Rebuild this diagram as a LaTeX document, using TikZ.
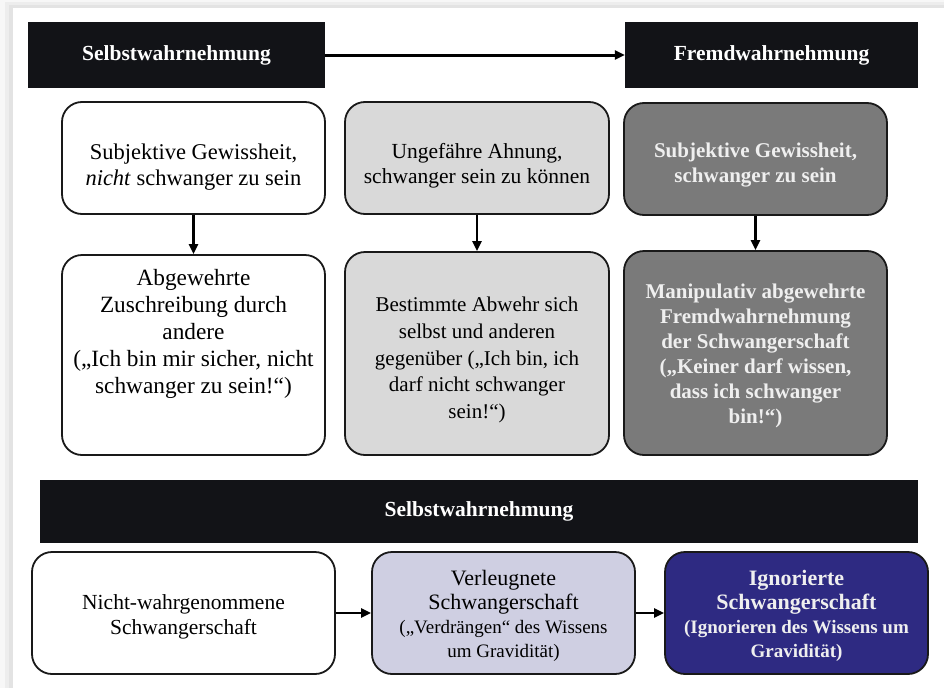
\documentclass[tikz,border=0pt]{standalone}
\usepackage{fontspec}
\setmainfont{Liberation Serif}
\usetikzlibrary{arrows.meta}
\definecolor{hdrblack}{HTML}{121317}
\definecolor{lgray}{HTML}{D9D9D9}
\definecolor{dgray}{HTML}{7A7A7A}
\definecolor{lav}{HTML}{CFCFE2}
\definecolor{dblue}{HTML}{2E2A82}
\definecolor{wtext}{HTML}{EFEFEF}
\newcommand{\subfnt}{\fontsize{19}{24}\selectfont}
\begin{document}
\begin{tikzpicture}[x=1pt,y=-1pt,
  hdr/.style={fill=hdrblack, text=white, inner sep=0pt, font=\fontsize{21.5}{24}\selectfont\bfseries},
  rbox/.style={draw=black!90, line width=1.8pt, rounded corners=20pt, inner sep=0pt},
  txt/.style={align=center, inner sep=0pt},
  boldtxt/.style={txt, font=\fontsize{21}{25}\selectfont\bfseries, text=wtext},
  conn/.style={draw=black, line width=2.4pt, -{Triangle[length=10pt,width=9pt]}},
]
\useasboundingbox (0,0) rectangle (944,688);
% card with shadow
\fill[black!3] (0,0) rectangle (944,688);
\fill[black!7] (5,2) rectangle (944,688);
\fill[black!11] (9,5) rectangle (944,688);
\fill[white] (13,8) rectangle (944,688);

% header boxes
\node[hdr, minimum width=297pt, minimum height=66pt] (sw) at (176.5,55) {Selbstwahrnehmung};
\node[hdr, minimum width=293pt, minimum height=66pt] (fw) at (771.5,55) {Fremdwahrnehmung};
\draw[conn, line width=3pt] (sw) -- (fw);

% row 1
\node[rbox, fill=white, minimum width=263pt, minimum height=112pt] (a1) at (193.5,158) {};
\node[txt, font=\fontsize{22.5}{26.5}\selectfont] (a1t) at (193.5,167)
  {Subjektive Gewissheit,\\\textit{nicht} schwanger zu sein};
\node[rbox, fill=lgray, minimum width=264pt, minimum height=112pt] (b1) at (477,158) {};
\node[txt, font=\fontsize{21.5}{25}\selectfont] (b1t) at (477,166)
  {Ungefähre Ahnung,\\schwanger sein zu können};
\node[rbox, fill=dgray, minimum width=263pt, minimum height=112pt] (c1) at (755.5,159) {};
\node[boldtxt] (c1t) at (755.5,165)
  {Subjektive Gewissheit,\\schwanger zu sein};

% row 2
\node[rbox, fill=white, minimum width=263pt, minimum height=200pt] (a2) at (193.5,355) {};
\node[txt, font=\fontsize{23.3}{27}\selectfont] (a2t) at (193.5,334)
  {Abgewehrte\\Zuschreibung durch\\andere\\(„Ich bin mir sicher, nicht\\schwanger zu sein!“)};
\node[rbox, fill=lgray, minimum width=264pt, minimum height=203pt] (b2) at (477,353.5) {};
\node[txt, font=\fontsize{21}{26.8}\selectfont] (b2t) at (477,360)
  {Bestimmte Abwehr sich\\selbst und anderen\\gegenüber („Ich bin, ich\\darf nicht schwanger\\sein!“)};
\node[rbox, fill=dgray, minimum width=263pt, minimum height=204pt] (c2) at (755.5,353) {};
\node[boldtxt] (c2t) at (755.5,356)
  {Manipulativ abgewehrte\\Fremdwahrnehmung\\der Schwangerschaft\\(„Keiner darf wissen,\\dass ich schwanger\\bin!“)};

\draw[conn] (a1) -- (a2);
\draw[conn] (b1) -- (b2);
\draw[conn] (c1) -- (c2);

% bottom bar
\node[hdr, minimum width=878pt, minimum height=63pt] (bar) at (479,511.5) {Selbstwahrnehmung};

% bottom row
\node[rbox, fill=white, minimum width=303pt, minimum height=122pt] (d) at (183.5,613) {};
\node[txt, font=\fontsize{21.5}{25}\selectfont] (dt) at (183.5,617)
  {Nicht-wahrgenommene\\Schwangerschaft};
\node[rbox, fill=lav, minimum width=263pt, minimum height=122pt] (e) at (503.5,613) {};
\node[txt, font=\fontsize{22}{24}\selectfont] (et) at (503.5,616)
  {Verleugnete\\Schwangerschaft\\\subfnt(„Verdrängen“ des Wissens\\\subfnt um Gravidität)};
\node[rbox, fill=dblue, minimum width=263pt, minimum height=122pt] (f) at (796.5,613) {};
\node[txt, font=\fontsize{22}{24}\selectfont\bfseries, text=wtext] (ft) at (796.5,616)
  {Ignorierte\\Schwangerschaft\\\subfnt(Ignorieren des Wissens um\\\subfnt Gravidität)};

\draw[conn] (d) -- (e);
\draw[conn] (e) -- (f);
\end{tikzpicture}
\end{document}
